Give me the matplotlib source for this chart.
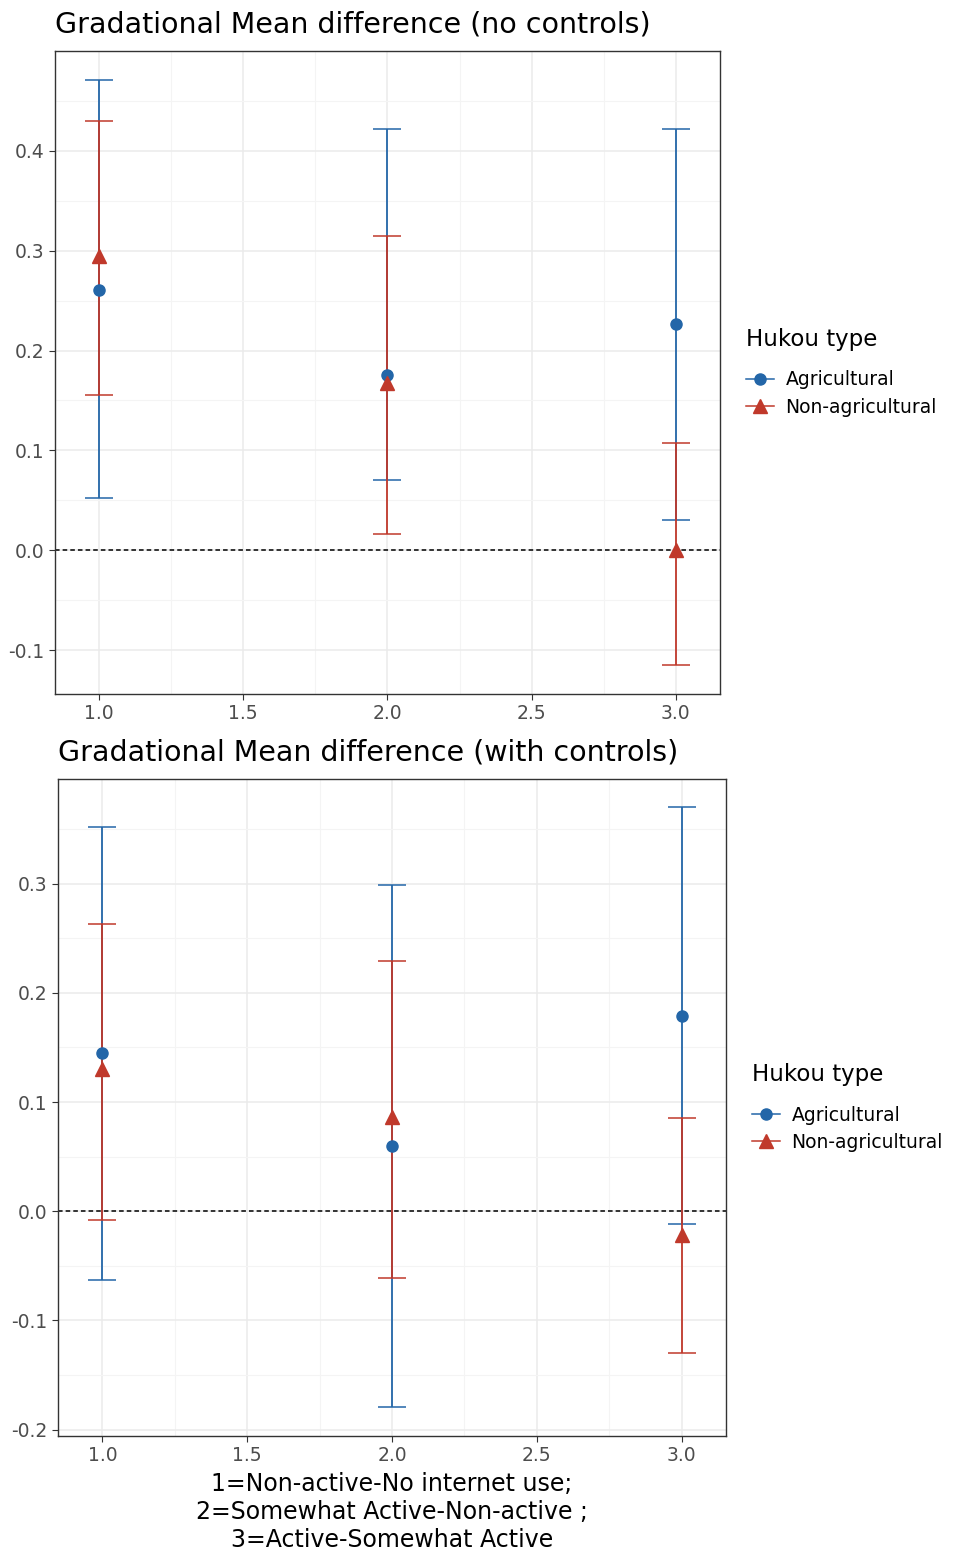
import numpy as np
import matplotlib.pyplot as plt
from matplotlib.lines import Line2D
from matplotlib.ticker import MultipleLocator

# Group positions on the x axis
groups = [1.0, 2.0, 3.0]
series_names = ['Agricultural', 'Non-agricultural']

# Panel 1: no controls (estimate, lower CI, upper CI)
nc_agri_mean = [0.261, 0.175, 0.227]
nc_agri_low = [0.052, 0.070, 0.030]
nc_agri_high = [0.471, 0.422, 0.422]
nc_non_mean = [0.295, 0.167, 0.000]
nc_non_low = [0.155, 0.016, -0.115]
nc_non_high = [0.430, 0.315, 0.107]

# Panel 2: with controls
wc_agri_mean = [0.145, 0.060, 0.179]
wc_agri_low = [-0.063, -0.179, -0.012]
wc_agri_high = [0.352, 0.299, 0.370]
wc_non_mean = [0.130, 0.086, -0.022]
wc_non_low = [-0.008, -0.061, -0.130]
wc_non_high = [0.263, 0.229, 0.085]

blue = '#2366A8'
red = '#C0392B'

fig = plt.figure(figsize=(9.56, 15.53), dpi=100)
ax1 = fig.add_axes([0.0575, 0.5531, 0.6955, 0.4141])
ax2 = fig.add_axes([0.0607, 0.0753, 0.6987, 0.4231])


def draw_panel(ax, agri, non, title, ylim, yticks):
    for (m, lo, hi), col, mk, ms in [(agri, blue, 'o', 8), (non, red, '^', 10)]:
        m = np.array(m)
        yerr = [m - np.array(lo), np.array(hi) - m]
        ax.errorbar(groups, m, yerr=yerr, fmt='none', ecolor=col, elinewidth=1.3,
                    capsize=10, capthick=1.1, zorder=3)
        ax.plot(groups, m, linestyle='none', marker=mk, color=col, markersize=ms, zorder=4)
    ax.axhline(0, color='black', linestyle=(0, (3, 2)), linewidth=1.1, zorder=2)
    ax.set_xlim(0.847, 3.153)
    ax.set_ylim(*ylim)
    ax.set_xticks([1.0, 1.5, 2.0, 2.5, 3.0])
    ax.set_xticklabels(['1.0', '1.5', '2.0', '2.5', '3.0'])
    ax.set_yticks(yticks)
    ax.set_yticklabels([f'{t:.1f}' for t in yticks])
    ax.xaxis.set_minor_locator(MultipleLocator(0.25))
    ax.yaxis.set_minor_locator(MultipleLocator(0.05))
    ax.grid(True, which='major', color='#EBEBEB', linewidth=1.1, zorder=0)
    ax.grid(True, which='minor', color='#F4F4F4', linewidth=0.8, zorder=0)
    ax.set_axisbelow(True)
    ax.tick_params(which='minor', length=0)
    ax.tick_params(which='major', length=4, color='#333333', labelsize=13.5,
                   labelcolor='#4D4D4D')
    for s in ax.spines.values():
        s.set_color('#333333')
        s.set_linewidth(1.0)
    ax.set_title(title, loc='left', fontsize=20.5, pad=13, x=0.0)

    handles = [
        Line2D([0], [0], color=blue, marker='o', markersize=8, linewidth=1.1),
        Line2D([0], [0], color=red, marker='^', markersize=10, linewidth=1.1),
    ]
    leg = ax.legend(handles, series_names, title='Hukou type', loc='center left',
                    bbox_to_anchor=(1.0, 0.5), frameon=False, fontsize=13.5,
                    title_fontsize=16.5, handlelength=1.5, handletextpad=0.6,
                    labelspacing=0.45, borderaxespad=1.0)
    leg._legend_box.align = 'left'
    leg._legend_box.sep = 14


draw_panel(ax1, (nc_agri_mean, nc_agri_low, nc_agri_high),
           (nc_non_mean, nc_non_low, nc_non_high),
           'Gradational Mean difference (no controls)',
           (-0.144, 0.500), [-0.1, 0.0, 0.1, 0.2, 0.3, 0.4])

draw_panel(ax2, (wc_agri_mean, wc_agri_low, wc_agri_high),
           (wc_non_mean, wc_non_low, wc_non_high),
           'Gradational Mean difference (with controls)',
           (-0.206, 0.396), [-0.2, -0.1, 0.0, 0.1, 0.2, 0.3])

ax2.set_xlabel('1=Non-active-No internet use;\n2=Somewhat Active-Non-active ;\n'
               '3=Active-Somewhat Active', fontsize=17, labelpad=5, linespacing=1.2)

fig.savefig('out.png', dpi=100)
